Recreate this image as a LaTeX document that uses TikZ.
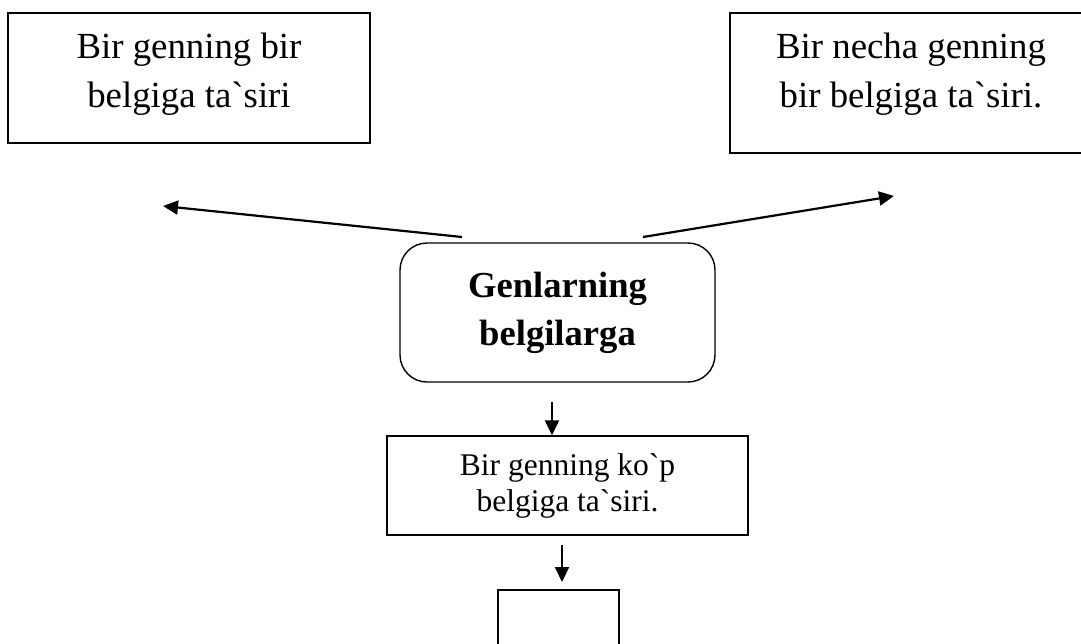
\documentclass[tikz,border=0pt]{standalone}
\usepackage{fontspec}
\setmainfont{Liberation Serif}[Ligatures=TeXOff]
\usetikzlibrary{arrows.meta,calc}
\begin{document}
\begin{tikzpicture}[x=1pt,y=-1pt,
  box/.style={draw, line width=1.4pt, inner sep=0pt, align=center},
  arr/.style={line width=2.2pt, -{Triangle[length=15pt,width=14pt]}},
  bigtext/.style={font=\fontsize{36.8}{49}\selectfont},
  boldtext/.style={font=\fontsize{36.6}{48}\selectfont\bfseries},
  smalltext/.style={font=\fontsize{31.5}{36}\selectfont}]
\useasboundingbox (0,0) rectangle (1081,643);
\fill[white] (0,0) rectangle (1081,643);
\clip (0,0) rectangle (1081,643);
% top boxes
\node[box, bigtext, minimum width=362pt, minimum height=130pt, text height=74pt, text depth=16pt]
  (b1) at (189,78) {Bir genning bir\\belgiga ta`siri};
\node[box, bigtext, minimum width=362pt, minimum height=140pt, text height=74pt, text depth=26pt]
  (b2) at (911,83) {Bir necha genning\\bir belgiga ta`siri.};
% central rounded box
\node[box, boldtext, rounded corners=27pt, minimum width=315pt, minimum height=139pt]
  (main) at (557.5,312.5) {Genlarning\\belgilarga};
% middle box
\node[box, smalltext, minimum width=361pt, minimum height=99pt]
  (mid) at (567.5,485.5) {Bir genning ko`p\\belgiga ta`siri.};
% bottom (empty) box
\node[box, minimum width=121pt, minimum height=100pt] (low) at (558.5,640) {};
% free ends of connectors
\coordinate (l0) at (462,237);
\coordinate (l1) at (163,206);
\coordinate (r0) at (643,237);
\coordinate (r1) at (894,196);
\coordinate (d0) at (552,402);
\coordinate (e0) at (562,545);
\coordinate (e1) at (562,582);
\draw[arr] (l0) -- (l1);
\draw[arr] (r0) -- (r1);
\draw[arr] (d0) -- (d0 |- mid.north);
\draw[arr] (e0) -- (e1);
\end{tikzpicture}
\end{document}
